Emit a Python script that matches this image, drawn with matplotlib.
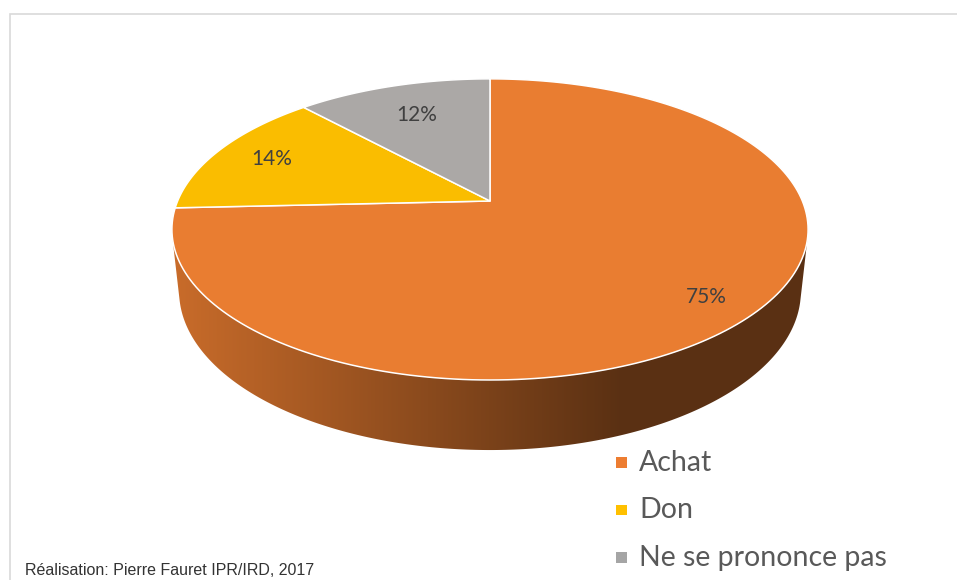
import numpy as np
import matplotlib
matplotlib.use("Agg")
import matplotlib.pyplot as plt
from matplotlib.patches import Polygon, Rectangle

# Survey answers: how the item was obtained
categories = ["Achat", "Don", "Ne se prononce pas"]
shares = [75, 14, 12]
share_labels = ["75%", "14%", "12%"]
top_colors = ["#E97D31", "#FABD00", "#ABA8A6"]
legend_colors = ["#ED7D31", "#FFC000", "#A5A5A5"]
source_note = "Réalisation: Pierre Fauret IPR/IRD, 2017"

W, H = 957, 580
plt.rcParams["font.family"] = ["Lato", "DejaVu Sans"]

# perspective camera looking down on a unit-radius disc
CX, CY = 490.0, 201.0
ELEV = np.radians(27.7)
DIST = 4.69
FOCAL = 1465.0
THICK = 0.2256
LABEL_R = [0.85, 0.80, 0.72]


def project(x, y, z):
    depth = DIST + y * np.cos(ELEV) - z * np.sin(ELEV)
    u = FOCAL * x / depth
    v = FOCAL * (y * np.sin(ELEV) + z * np.cos(ELEV)) / depth
    return CX + u, CY - v


def side_gradient(color, px):
    # side walls get darker towards the right
    rgb = np.array(matplotlib.colors.to_rgb(color))
    f = np.interp(px, [175, 620], [0.86, 0.39])
    return np.clip(rgb[None, :] * f[:, None], 0, 1)


fig = plt.figure(figsize=(W / 100, H / 100), dpi=100)
ax = fig.add_axes([0, 0, 1, 1])
ax.set_xlim(0, W)
ax.set_ylim(H, 0)
ax.axis("off")

# chart frame
ax.plot([9.5, 9.5, W + 5], [H + 5, 14, 14], color="#D9D9D9", lw=1.2,
        solid_joinstyle="miter", zorder=0)

fracs = np.array(shares, dtype=float) / sum(shares)
bounds = np.radians(90 - 360 * np.concatenate([[0], np.cumsum(fracs)]))
front_limit = -1.0 / (DIST * np.cos(ELEV))

# side wall, one shaded band per slice
for i in range(len(shares)):
    th = np.linspace(bounds[i], bounds[i + 1], 400)
    th = th[np.sin(th) < front_limit]
    if len(th) < 2:
        continue
    xt, yt = project(np.cos(th), np.sin(th), 0.0)
    xb, yb = project(np.cos(th[::-1]), np.sin(th[::-1]), -THICK)
    wall = Polygon(np.column_stack([np.r_[xt, xb], np.r_[yt, yb]]),
                   closed=True, facecolor="none", edgecolor="none")
    ax.add_patch(wall)
    x0, x1 = min(xt.min(), xb.min()) - 2, max(xt.max(), xb.max()) + 2
    y0, y1 = min(yt.min(), yb.min()) - 2, max(yt.max(), yb.max()) + 2
    cols = np.arange(int(x0), int(x1) + 1) + 0.5
    grad = side_gradient(top_colors[i], cols)[None, :, :]
    img = ax.imshow(grad, extent=(x0, x1, y1, y0), aspect="auto",
                    interpolation="bilinear", zorder=1)
    img.set_clip_path(wall)

# top face
for i in range(len(shares)):
    th = np.linspace(bounds[i], bounds[i + 1], 200)
    xs, ys = project(np.cos(th), np.sin(th), 0.0)
    pts = np.column_stack([np.r_[CX, xs], np.r_[CY, ys]])
    ax.add_patch(Polygon(pts, closed=True, facecolor=top_colors[i],
                         edgecolor="white", lw=1.1, joinstyle="round", zorder=2))

# percentage labels
for i in range(len(shares)):
    mid = (bounds[i] + bounds[i + 1]) / 2
    lx, ly = project(LABEL_R[i] * np.cos(mid), LABEL_R[i] * np.sin(mid), 0.0)
    ax.text(lx, ly, share_labels[i], ha="center", va="center",
            fontsize=15, color="#404040", zorder=3)

# legend
for i, (name, col) in enumerate(zip(categories, legend_colors)):
    base = 471 + 47.5 * i
    ax.add_patch(Rectangle((616, base - 14), 11, 10.5, facecolor=col,
                           edgecolor="none", zorder=3))
    ax.text(639, base, name, ha="left", va="baseline", fontsize=20.5,
            color="#595959", zorder=3)

ax.text(25, 575, source_note, ha="left", va="baseline", fontsize=11.5,
        family=["Liberation Sans Narrow", "Liberation Sans"], color="#333333")

fig.savefig("out.png", dpi=100)
